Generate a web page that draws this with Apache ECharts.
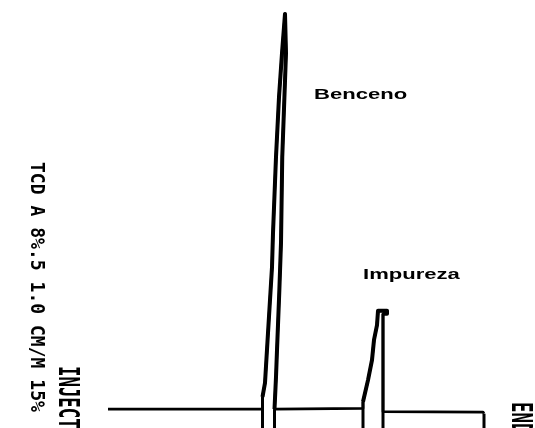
<!DOCTYPE html>
<html>
<head>
<meta charset="utf-8">
<script src="https://cdn.jsdelivr.net/npm/echarts@6/dist/echarts.min.js"></script>
<style>
  html, body { margin: 0; padding: 0; background: #fff; }
  #chart { width: 535px; height: 428px; }
</style>
</head>
<body>
<div id="chart"></div>
<script>
// Recorder trace: retention time (min) and detector signal (mV)
const traceTime = [2.16, 5.25, 5.25, 5.30, 5.36, 5.44, 5.46, 5.52, 5.58, 5.64, 5.70, 5.74,
  5.72, 5.645, 5.62, 5.585, 5.54, 5.52, 5.49, 7.26, 7.26, 7.30, 7.36, 7.44, 7.48, 7.54,
  7.56, 7.74, 7.74, 7.66, 7.66, 7.70, 9.66, 9.68];
const traceSignal = [0.1, 0.1, 3.1, 6.5, 18.7, 34.8, 43.1, 61.7, 76.3, 87.0, 96.6, 96.6,
  87.0, 61.7, 40.7, 28.5, 14.5, 8.0, 0.1, 0.3, 1.9, 2.3, 7.2, 12.1, 17.0, 20.6,
  24.1, 24.1, 23.4, 23.4, -0.5, -0.5, -0.6, -1.0];

// Integrator event marks (peak start / end / stop), drawn down past the baseline
const eventTime = [5.25, 5.49, 7.26, 7.66, 9.68];
const eventFrom = [3.1, 0.1, 1.9, 23.4, -1.0];

// Identified peaks
const peakNames = ['Benceno', 'Impureza'];
const peakTime = [5.72, 7.64];
const peakSignal = [96.6, 24.1];

// Printed run annotations
const headerText = 'TCD A 8%.5 1.0 CM/M 15%';
const injectText = 'INJECT';
const endText = 'END';

const Y_MIN = -4.5, Y_MAX = 100;
const X_MIN = 0, X_MAX = 10.7;

const pen = { color: '#000', width: 2.7, join: 'round', cap: 'butt' };
const heavyPen = { color: '#000', width: 4, join: 'round', cap: 'butt' };

const points = traceTime.map((t, i) => [t, traceSignal[i]]);
const series = [{
  type: 'line',
  data: points,
  symbol: 'none',
  clip: false,
  lineStyle: pen
}];

// The pen runs heavier on the steep peak flanks
function peakStretch(from, to) {
  return points.slice(from, to + 1);
}
const peakRuns = [[2, 18], [20, 29]];
peakRuns.forEach(r => {
  series.push({
    type: 'line',
    data: peakStretch(r[0], r[1]),
    symbol: 'none',
    clip: false,
    lineStyle: heavyPen
  });
});

eventTime.forEach((t, i) => {
  series.push({
    type: 'line',
    data: [[t, eventFrom[i]], [t, Y_MIN]],
    symbol: 'none',
    clip: false,
    lineStyle: { color: '#000', width: 3, cap: 'butt' }
  });
});

const chart = echarts.init(document.getElementById('chart'), null, { renderer: 'canvas' });
chart.setOption({
  animation: false,
  backgroundColor: '#fff',
  grid: { left: 0, right: 0, top: 0, bottom: 0 },
  xAxis: { type: 'value', min: X_MIN, max: X_MAX, show: false },
  yAxis: { type: 'value', min: Y_MIN, max: Y_MAX, show: false },
  series: series
});

// Peak names placed beside each apex
const nameOffset = [[28, 81], [-19, -36]];
const graphics = peakNames.map((name, i) => {
  const p = chart.convertToPixel({ gridIndex: 0 }, [peakTime[i], peakSignal[i]]);
  return {
    type: 'text',
    x: p[0] + nameOffset[i][0],
    y: p[1] + nameOffset[i][1],
    scaleX: 1.47,
    style: {
      text: name,
      fill: '#000',
      font: 'bold 15px "Liberation Sans", Arial, sans-serif',
      align: 'left',
      verticalAlign: 'middle'
    }
  };
});

// Printer lines, rotated to read top-to-bottom
function printed(text, x, y, size, squeeze) {
  return {
    type: 'text',
    x: x, y: y,
    rotation: -Math.PI / 2,
    scaleX: squeeze,
    style: {
      text: text,
      fill: '#000',
      font: 'bold ' + size + 'px "DejaVu Sans Mono", monospace',
      align: 'left',
      verticalAlign: 'middle'
    }
  };
}
graphics.push(printed(headerText, 36, 162, 19, 0.95));
graphics.push(printed(injectText, 66, 366, 28, 0.62));
graphics.push(printed(endText, 519, 402, 28, 0.62));

chart.setOption({ graphic: graphics });
</script>
</body>
</html>
